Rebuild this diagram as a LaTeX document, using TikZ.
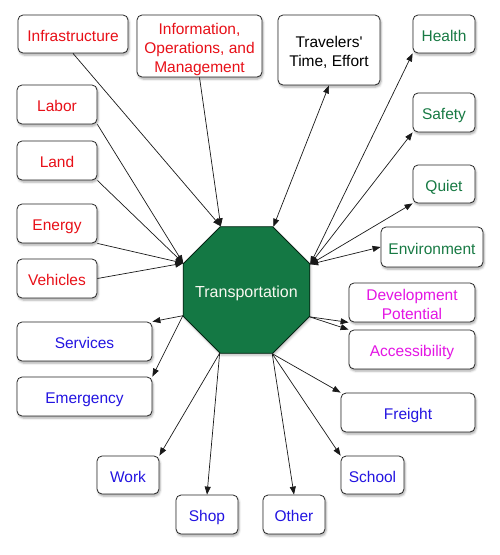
\documentclass[tikz,border=0pt]{standalone}
\usepackage{fontspec}
\setmainfont{Liberation Sans}
\usetikzlibrary{shapes.geometric,arrows.meta,shadows.blur}
\definecolor{cred}{RGB}{232,16,24}
\definecolor{cgreen}{RGB}{24,122,68}
\definecolor{cblue}{RGB}{35,20,225}
\definecolor{cmag}{RGB}{228,20,228}
\definecolor{octfill}{RGB}{20,120,68}
\definecolor{octtext}{RGB}{248,248,240}
\newcommand\boxtxt[1]{\raisebox{-3.5pt}[\height][\depth]{\begin{tabular}{@{}c@{}}#1\end{tabular}}}
\tikzset{
  box/.style={draw=black!85, line width=0.8pt, fill=white, rounded corners=5pt,
    inner sep=0pt, font=\fontsize{15.5}{19}\selectfont,
    blur shadow={shadow xshift=1pt, shadow yshift=-2pt, shadow opacity=35, shadow blur steps=4}},
  conn/.style={line width=0.7pt, draw=black!90},
  tip/.style={-{Triangle[length=8pt,width=6pt]}},
  bitip/.style={{Triangle[length=8pt,width=6pt]}-{Triangle[length=8pt,width=6pt]}},
}
\begin{document}
\begin{tikzpicture}[x=1pt,y=-1pt]
\useasboundingbox (0,0) rectangle (500,555);
% inputs
\node[box, text=cred, minimum width=110pt, minimum height=38pt] (infra) at (73,34) {\boxtxt{Infrastructure}};
\node[box, text=cred, minimum width=125pt, minimum height=62pt] (info) at (199.5,46) {\boxtxt{Information,\\Operations, and\\Management}};
\node[box, text=cred, minimum width=80pt, minimum height=39pt] (labor) at (57,104.5) {\boxtxt{Labor}};
\node[box, text=cred, minimum width=80pt, minimum height=39pt] (land) at (57,160.5) {\boxtxt{Land}};
\node[box, text=cred, minimum width=80pt, minimum height=39pt] (energy) at (57,223.5) {\boxtxt{Energy}};
\node[box, text=cred, minimum width=80pt, minimum height=39pt] (vehicles) at (57,278.5) {\boxtxt{Vehicles}};
% both ways
\node[box, text=black, minimum width=102pt, minimum height=70pt] (trav) at (329,50) {\boxtxt{Travelers\textquotesingle\\Time, Effort}};
\node[box, text=cgreen, minimum width=62pt, minimum height=38pt] (health) at (444,34) {\boxtxt{Health}};
\node[box, text=cgreen, minimum width=62pt, minimum height=39pt] (safety) at (444,112.5) {\boxtxt{Safety}};
\node[box, text=cgreen, minimum width=62pt, minimum height=38pt] (quiet) at (444,184) {\boxtxt{Quiet}};
\node[box, text=cgreen, minimum width=102pt, minimum height=40pt] (env) at (432,247) {\boxtxt{Environment}};
% outputs
\node[box, text=cmag, minimum width=126pt, minimum height=39pt] (dev) at (412,302.5) {\boxtxt{Development\\Potential}};
\node[box, text=cmag, minimum width=126pt, minimum height=39pt] (access) at (412,349.5) {\boxtxt{Accessibility}};
\node[box, text=cblue, minimum width=134pt, minimum height=39pt] (freight) at (408,412.5) {\boxtxt{Freight}};
\node[box, text=cblue, minimum width=63pt, minimum height=38pt] (school) at (372.5,475) {\boxtxt{School}};
\node[box, text=cblue, minimum width=62pt, minimum height=39pt] (other) at (294,514.5) {\boxtxt{Other}};
\node[box, text=cblue, minimum width=62pt, minimum height=39pt] (shop) at (207,514.5) {\boxtxt{Shop}};
\node[box, text=cblue, minimum width=62pt, minimum height=38pt] (work) at (128,475) {\boxtxt{Work}};
\node[box, text=cblue, minimum width=135pt, minimum height=39pt] (emerg) at (84.5,396.5) {\boxtxt{Emergency}};
\node[box, text=cblue, minimum width=135pt, minimum height=39pt] (serv) at (84.5,341.5) {\boxtxt{Services}};
% center
\node[regular polygon, regular polygon sides=8, minimum size=137pt, inner sep=0pt,
  fill=octfill, draw=black!70!octfill, line width=0.8pt, text=octtext,
  font=\fontsize{16}{19}\selectfont,
  blur shadow={shadow xshift=1pt, shadow yshift=-2pt, shadow opacity=25, shadow blur steps=4}] (oct) at (246.5,290) {\raisebox{-3pt}[\height][\depth]{\makebox[0pt]{Transportation}}};
% connectors in
\draw[conn,tip] (infra.south) -- (oct.112.5);
\draw[conn,tip] (info.south) -- (oct.112.5);
\draw[conn,tip] (labor.south east) -- (oct.157.5);
\draw[conn,tip] (land.south east) -- (oct.157.5);
\draw[conn,tip] (energy.south east) -- (oct.157.5);
\draw[conn,tip] (vehicles.east) -- (oct.157.5);
% both ways
\draw[conn,bitip] (trav.south) -- (oct.67.5);
\draw[conn,bitip] (health.south west) -- (oct.22.5);
\draw[conn,bitip] (safety.south west) -- (oct.22.5);
\draw[conn,bitip] (quiet.south west) -- (oct.22.5);
\draw[conn,bitip] (env.west) -- (oct.22.5);
% out
\draw[conn,tip] (oct.337.5) -- (dev.south west);
\draw[conn,tip] (oct.337.5) -- (access.north west);
\draw[conn,tip] (oct.292.5) -- (freight.north west);
\draw[conn,tip] (oct.292.5) -- (school.north west);
\draw[conn,tip] (oct.292.5) -- (other.north);
\draw[conn,tip] (oct.247.5) -- (shop.north);
\draw[conn,tip] (oct.247.5) -- (work.north east);
\draw[conn,tip] (oct.202.5) -- (serv.north east);
\draw[conn,tip] (oct.202.5) -- (emerg.north east);
\end{tikzpicture}
\end{document}
